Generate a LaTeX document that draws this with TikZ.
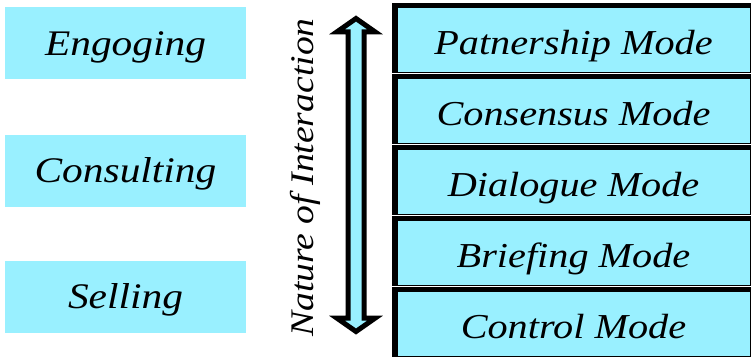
\documentclass[tikz,border=0pt]{standalone}
\usepackage{fontspec}
\setmainfont{Liberation Serif}
\usepackage{graphicx}
\usetikzlibrary{shapes.arrows,backgrounds}
\definecolor{modecyan}{RGB}{153,240,255}
\newcommand{\widetxt}[1]{\scalebox{1.15}[1]{#1}}

\begin{document}
\begin{tikzpicture}[x=1pt,y=-1pt,
    sidebox/.style={fill=modecyan, minimum width=241pt, minimum height=72pt, inner sep=0pt,
      text height=24pt, text depth=0pt, font=\fontsize{36}{40}\selectfont\itshape},
    modebox/.style={fill=modecyan, draw=black, line width=1pt, minimum width=353pt,
      minimum height=65pt, inner sep=0pt, text height=30pt, text depth=0pt,
      font=\fontsize{35}{40}\selectfont\itshape}]
                \useasboundingbox (0,0) rectangle (752,360);
                % left column
                \node[sidebox] (engaging) at (125.5,43) {\widetxt{Engoging}};
                \node[sidebox] (consulting) at (125.5,170.5) {\widetxt{Consulting}};
                \node[sidebox] (selling) at (125.5,296.5) {\widetxt{Selling}};
                % interaction arrow and its label
                \node[double arrow, draw=black, fill=modecyan, line width=5pt, rotate=90,
                  minimum height=313pt, inner xsep=0pt, inner ysep=5.5pt,
                  double arrow head extend=11pt, double arrow tip angle=110] (interaction) at (356,175) {};
                \node[rotate=90, anchor=base, font=\fontsize{33}{36}\selectfont\itshape] (naturelabel) at (313,177.5)
                  {\scalebox{1.14}[1]{Nature of Interaction}};
                % right column of modes
                \node[modebox] (partnership) at (573.5,39.5) {\widetxt{Patnership Mode}};
                \node[modebox] (consensus) at (573.5,110.5) {\widetxt{Consensus Mode}};
                \node[modebox] (dialogue) at (573.5,181.5) {\widetxt{Dialogue Mode}};
                \node[modebox] (briefing) at (573.5,252.5) {\widetxt{Briefing Mode}};
                \node[modebox] (control) at (573.5,323.5) {\widetxt{Control Mode}};
                % black edge behind each mode
                \begin{scope}[on background layer]
                \foreach \m in {partnership,consensus,dialogue,briefing,control}
                  \fill[black] ([shift={(-5,-4)}]\m.north west) rectangle (\m.south east);
                \end{scope}
            \end{tikzpicture}
\end{document}
